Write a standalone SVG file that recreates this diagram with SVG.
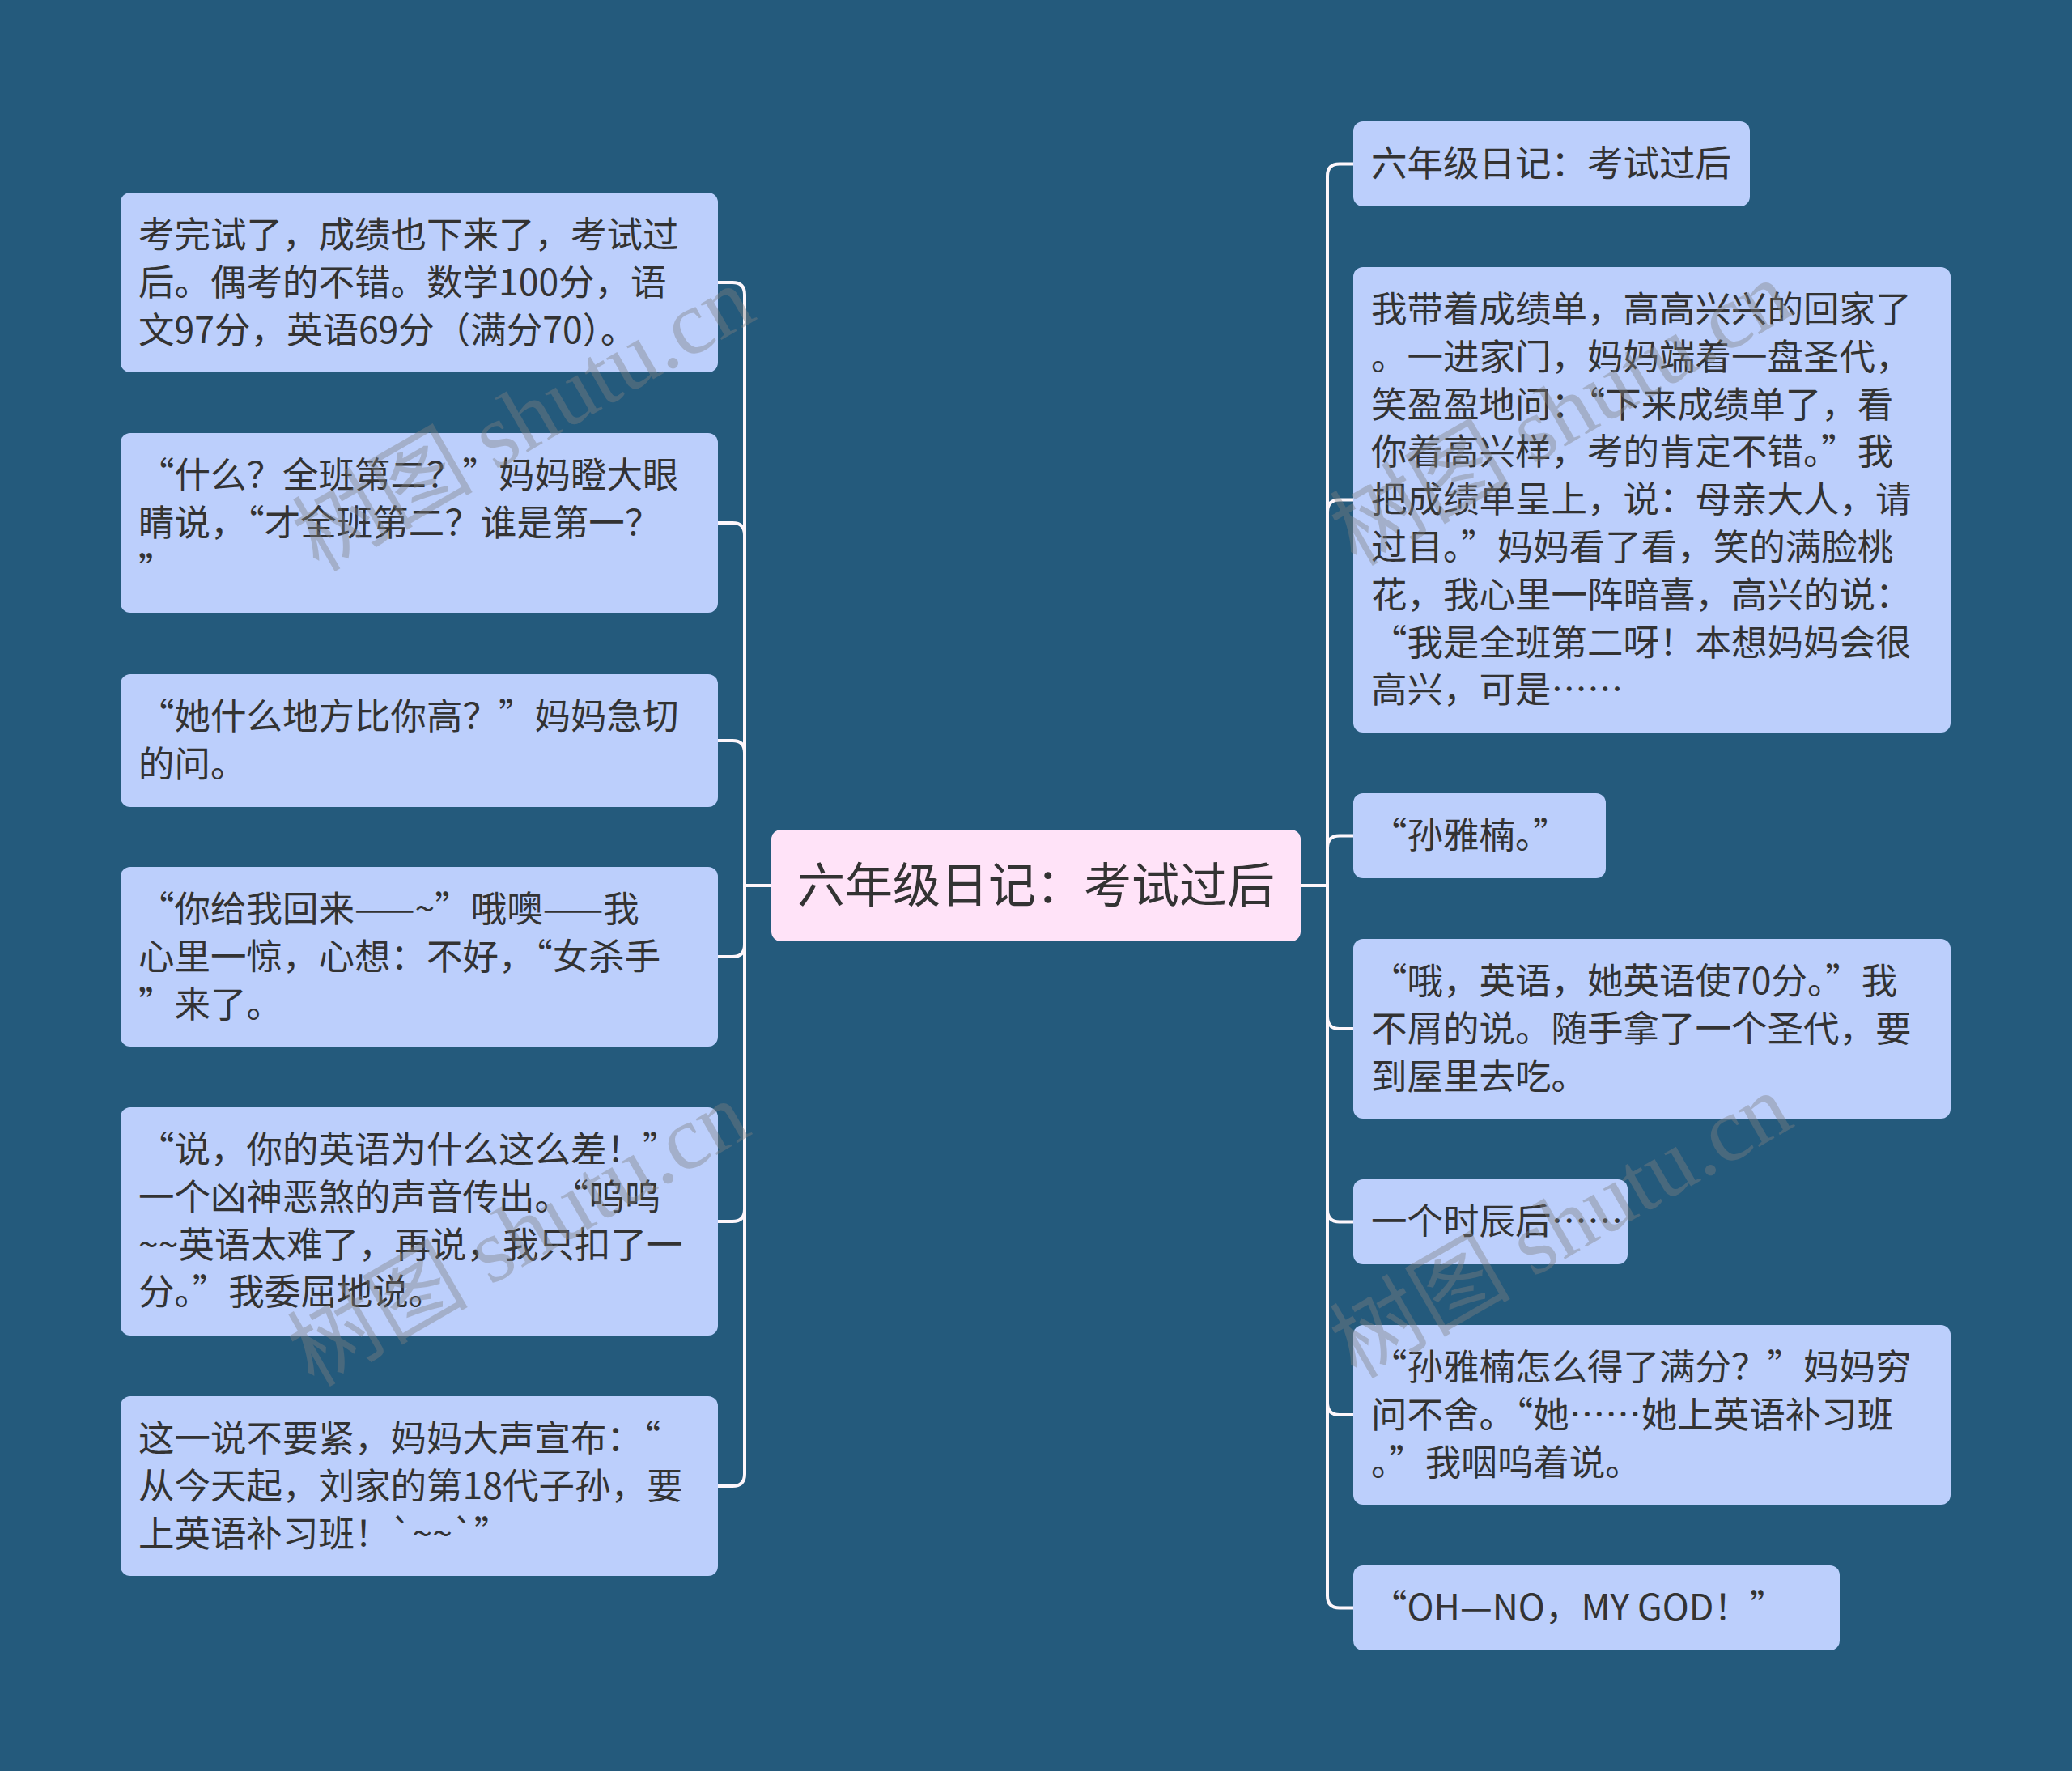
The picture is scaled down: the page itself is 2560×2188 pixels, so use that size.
<svg xmlns="http://www.w3.org/2000/svg" width="2560" height="2188" viewBox="0 0 2560 2188">
<style>
.bg{fill:#245a7c}
.n{fill:#bccffc}
.root{fill:#ffe3f8}
.t{font-family:"Noto Sans CJK SC","Noto Sans",sans-serif;font-size:44.5px;fill:#333333}
.rt{font-family:"Noto Sans CJK SC","Noto Sans",sans-serif;font-size:59px;fill:#333333}
.c{fill:none;stroke:#fdf6fb;stroke-width:4;stroke-linecap:round}
.wm{font-family:"Liberation Serif","Noto Sans CJK SC",serif;font-size:112px;fill:#808080;opacity:0.4}
</style>
<rect class="bg" x="0" y="0" width="2560" height="2188"/>
<g id="connectors">
<path class="c" d="M953 1094 H920 V364 Q920 349 905 349 H887"/>
<path class="c" d="M953 1094 H920 V661 Q920 646 905 646 H887"/>
<path class="c" d="M953 1094 H920 V930 Q920 915 905 915 H887"/>
<path class="c" d="M953 1094 H920 V1167 Q920 1182 905 1182 H887"/>
<path class="c" d="M953 1094 H920 V1494 Q920 1509 905 1509 H887"/>
<path class="c" d="M953 1094 H920 V1821 Q920 1836 905 1836 H887"/>
<path class="c" d="M1607 1094 H1640 V217.5 Q1640 202.5 1655 202.5 H1672"/>
<path class="c" d="M1607 1094 H1640 V632.5 Q1640 617.5 1655 617.5 H1672"/>
<path class="c" d="M1607 1094 H1640 V1047.5 Q1640 1032.5 1655 1032.5 H1672"/>
<path class="c" d="M1607 1094 H1640 V1256 Q1640 1271 1655 1271 H1672"/>
<path class="c" d="M1607 1094 H1640 V1494.5 Q1640 1509.5 1655 1509.5 H1672"/>
<path class="c" d="M1607 1094 H1640 V1733 Q1640 1748 1655 1748 H1672"/>
<path class="c" d="M1607 1094 H1640 V1971.5 Q1640 1986.5 1655 1986.5 H1672"/>
</g>
<g id="root">
<rect class="root" x="953" y="1025" width="654" height="138" rx="12"/>
<text class="rt" x="1280" y="1115" text-anchor="middle">六年级日记：考试过后</text>
</g>
<g id="L1">
<rect class="n" x="149" y="238" width="738" height="222" rx="12"/>
<text class="t" x="171" y="306"><tspan x="171">考完试了，成绩也下来了，考试过</tspan><tspan x="171" dy="58.8">后。偶考的不错。数学100分，语</tspan><tspan x="171" dy="58.8">文97分，英语69分（满分70）。</tspan></text>
</g>
<g id="L2">
<rect class="n" x="149" y="535" width="738" height="222" rx="12"/>
<text class="t" x="171" y="603"><tspan x="171">“什么？全班第二？”妈妈瞪大眼</tspan><tspan x="171" dy="58.8">睛说，“才全班第二？谁是第一？</tspan><tspan x="171" dy="58.8">”</tspan></text>
</g>
<g id="L3">
<rect class="n" x="149" y="833" width="738" height="164" rx="12"/>
<text class="t" x="171" y="901"><tspan x="171">“她什么地方比你高？”妈妈急切</tspan><tspan x="171" dy="58.8">的问。</tspan></text>
</g>
<g id="L4">
<rect class="n" x="149" y="1071" width="738" height="222" rx="12"/>
<text class="t" x="171" y="1139"><tspan x="171">“你给我回来——~”哦噢——我</tspan><tspan x="171" dy="58.8">心里一惊，心想：不好，“女杀手</tspan><tspan x="171" dy="58.8">”来了。</tspan></text>
</g>
<g id="L5">
<rect class="n" x="149" y="1368" width="738" height="282" rx="12"/>
<text class="t" x="171" y="1436"><tspan x="171">“说，你的英语为什么这么差！”</tspan><tspan x="171" dy="58.8">一个凶神恶煞的声音传出。“呜呜</tspan><tspan x="171" dy="58.8">~~英语太难了，再说，我只扣了一</tspan><tspan x="171" dy="58.8">分。”我委屈地说。</tspan></text>
</g>
<g id="L6">
<rect class="n" x="149" y="1725" width="738" height="222" rx="12"/>
<text class="t" x="171" y="1793"><tspan x="171">这一说不要紧，妈妈大声宣布：“</tspan><tspan x="171" dy="58.8">从今天起，刘家的第18代子孙，要</tspan><tspan x="171" dy="58.8">上英语补习班！`~~`”</tspan></text>
</g>
<g id="R1">
<rect class="n" x="1672" y="150" width="490" height="105" rx="12"/>
<text class="t" x="1694" y="218">六年级日记：考试过后</text>
</g>
<g id="R2">
<rect class="n" x="1672" y="330" width="738" height="575" rx="12"/>
<text class="t" x="1694" y="398"><tspan x="1694">我带着成绩单，高高兴兴的回家了</tspan><tspan x="1694" dy="58.8">。一进家门，妈妈端着一盘圣代，</tspan><tspan x="1694" dy="58.8">笑盈盈地问：“下来成绩单了，看</tspan><tspan x="1694" dy="58.8">你着高兴样，考的肯定不错。”我</tspan><tspan x="1694" dy="58.8">把成绩单呈上，说：母亲大人，请</tspan><tspan x="1694" dy="58.8">过目。”妈妈看了看，笑的满脸桃</tspan><tspan x="1694" dy="58.8">花，我心里一阵暗喜，高兴的说：</tspan><tspan x="1694" dy="58.8">“我是全班第二呀！本想妈妈会很</tspan><tspan x="1694" dy="58.8">高兴，可是……</tspan></text>
</g>
<g id="R3">
<rect class="n" x="1672" y="980" width="312" height="105" rx="12"/>
<text class="t" x="1694" y="1048">“孙雅楠。”</text>
</g>
<g id="R4">
<rect class="n" x="1672" y="1160" width="738" height="222" rx="12"/>
<text class="t" x="1694" y="1228"><tspan x="1694">“哦，英语，她英语使70分。”我</tspan><tspan x="1694" dy="58.8">不屑的说。随手拿了一个圣代，要</tspan><tspan x="1694" dy="58.8">到屋里去吃。</tspan></text>
</g>
<g id="R5">
<rect class="n" x="1672" y="1457" width="339" height="105" rx="12"/>
<text class="t" x="1694" y="1525">一个时辰后……</text>
</g>
<g id="R6">
<rect class="n" x="1672" y="1637" width="738" height="222" rx="12"/>
<text class="t" x="1694" y="1705"><tspan x="1694">“孙雅楠怎么得了满分？”妈妈穷</tspan><tspan x="1694" dy="58.8">问不舍。“她……她上英语补习班</tspan><tspan x="1694" dy="58.8">。”我咽呜着说。</tspan></text>
</g>
<g id="R7">
<rect class="n" x="1672" y="1934" width="601" height="105" rx="12"/>
<text class="t" x="1694" y="2002">“OH—NO，MY GOD！”</text>
</g>
<g id="watermarks">
<text class="wm" x="648" y="555" text-anchor="middle" transform="rotate(-30 648 520)">树图 shutu.cn</text>
<text class="wm" x="1930" y="548" text-anchor="middle" transform="rotate(-30 1930 513)">树图 shutu.cn</text>
<text class="wm" x="642" y="1562" text-anchor="middle" transform="rotate(-30 642 1527)">树图 shutu.cn</text>
<text class="wm" x="1930" y="1552" text-anchor="middle" transform="rotate(-30 1930 1517)">树图 shutu.cn</text>
</g>
</svg>
